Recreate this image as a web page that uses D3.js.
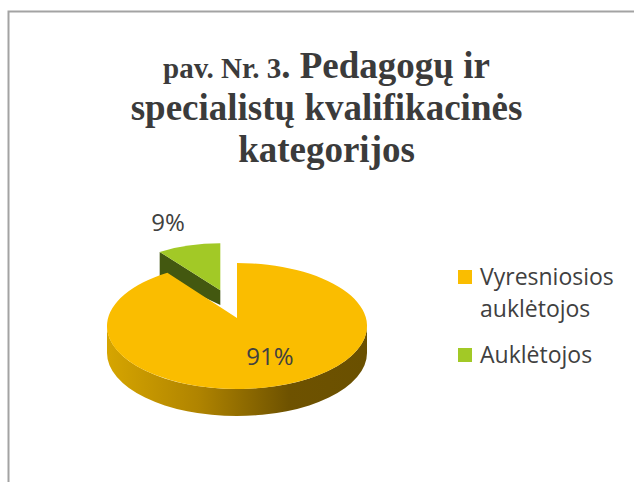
<!DOCTYPE html>
<html>
<head>
<meta charset="utf-8">
<script src="https://cdn.jsdelivr.net/npm/d3@7"></script>
<style>
  body { margin: 0; background: #fff; }
  svg { display: block; }
</style>
</head>
<body>
<svg id="chart" width="634" height="482"></svg>
<script>
// chart data
const categories = ["Vyresniosios auklėtojos", "Auklėtojos"];
const shares = [91, 9];
const labels = ["91%", "9%"];
const topColors = ["#FABD00", "#A2C926"];
const titleLines = ["specialistų kvalifikacinės", "kategorijos"];

const svg = d3.select("#chart");

// frame (only left and top edges visible)
svg.append("path")
    .attr("d", "M8.5,700 L8.5,11.5 L700,11.5")
    .attr("fill", "none")
    .attr("stroke", "#a3a3a3")
    .attr("stroke-width", 2);

// title
const titleFont = "'Liberation Serif', 'Times New Roman', serif";
const titleX = 326.5;
const title = svg.append("text")
    .attr("x", titleX)
    .attr("y", 78)
    .attr("text-anchor", "middle")
    .style("font-family", titleFont)
    .style("font-weight", "bold")
    .style("fill", "#3b3b3b");
title.append("tspan").style("font-size", "29px").text("pav. Nr. 3");
title.append("tspan").style("font-size", "37px").text(". Pedagogų ir");

titleLines.forEach((t, i) => {
    svg.append("text")
        .attr("x", titleX)
        .attr("y", 120 + i * 42)
        .attr("text-anchor", "middle")
        .style("font-family", titleFont)
        .style("font-weight", "bold")
        .style("font-size", "37px")
        .style("fill", "#3b3b3b")
        .text(t);
});

// 3D pie geometry
const cx = 237, cy = 326, rx = 130, ry = 63, depth = 27;
const apexDy = -8;     // perspective lift of the centre point
const explode = 0.46;  // explode factor for the small slice
const backScale = 0.87; // the exploded slice sits further back, so it looks smaller

const pie = d3.pie().sort(null).value(d => d)(shares);

// ellipse point for a pie angle (0 = 12 o'clock, clockwise)
const pt = (a, ox, oy, k = 1, dz = 0) => [ox + k * rx * Math.sin(a), oy - k * ry * Math.cos(a) + dz];

const defs = svg.append("defs");
const grad = defs.append("linearGradient")
    .attr("id", "sideGrad")
    .attr("x1", 0).attr("x2", 1).attr("y1", 0).attr("y2", 0);
[["0%", "#D6A500"], ["35%", "#B08400"], ["70%", "#6E5200"], ["100%", "#6A5000"]]
    .forEach(([o, c]) => grad.append("stop").attr("offset", o).attr("stop-color", c));

function topPath(a0, a1, ox, oy, k = 1) {
    const p0 = pt(a0, ox, oy, k), p1 = pt(a1, ox, oy, k);
    const large = (a1 - a0) > Math.PI ? 1 : 0;
    return `M${ox},${oy + apexDy} L${p0[0]},${p0[1]} A${k * rx},${k * ry} 0 ${large} 1 ${p1[0]},${p1[1]} Z`;
}

function sidePath(a0, a1, ox, oy) {
    // outer wall, only the front half is visible
    const s = Math.max(a0, Math.PI / 2), e = Math.min(a1, 3 * Math.PI / 2);
    if (e <= s) return null;
    const t0 = pt(s, ox, oy), t1 = pt(e, ox, oy);
    const b0 = pt(s, ox, oy, 1, depth), b1 = pt(e, ox, oy, 1, depth);
    return `M${t0[0]},${t0[1]} A${rx},${ry} 0 0 1 ${t1[0]},${t1[1]} L${b1[0]},${b1[1]} A${rx},${ry} 0 0 0 ${b0[0]},${b0[1]} Z`;
}

// small slice (exploded, drawn first: it sits behind)
const g = pie[1];
const mid = (g.startAngle + g.endAngle) / 2;
const gx = cx + explode * rx * Math.sin(mid);
const gy = cy - explode * ry * Math.cos(mid);
const c0 = pt(g.startAngle, gx, gy, backScale);
svg.append("path")
    .attr("d", `M${c0[0]},${c0[1]} L${gx},${gy + apexDy} L${gx},${gy + apexDy + depth * 0.55} L${c0[0]},${c0[1] + depth * 0.9} Z`)
    .attr("fill", "#435810");
svg.append("path")
    .attr("d", topPath(g.startAngle, g.endAngle, gx, gy, backScale))
    .attr("fill", topColors[1]);

// big slice
const y = pie[0];
const side = sidePath(y.startAngle, y.endAngle, cx, cy);
if (side) svg.append("path").attr("d", side).attr("fill", "url(#sideGrad)");
svg.append("path")
    .attr("d", topPath(y.startAngle, y.endAngle, cx, cy))
    .attr("fill", topColors[0]);

// data labels
const labelFont = "'Open Sans', 'DejaVu Sans', sans-serif";
svg.append("text")
    .attr("x", 270).attr("y", 365)
    .attr("text-anchor", "middle")
    .style("font-family", labelFont).style("font-size", "24px").style("fill", "#404040")
    .text(labels[0]);
svg.append("text")
    .attr("x", 168).attr("y", 231)
    .attr("text-anchor", "middle")
    .style("font-family", labelFont).style("font-size", "24px").style("fill", "#404040")
    .text(labels[1]);

// legend
const legendRows = [
    { lines: ["Vyresniosios", "auklėtojos"], y: 285 },
    { lines: [categories[1]], y: 363 }
];
legendRows.forEach((row, i) => {
    svg.append("rect")
        .attr("x", 458).attr("y", row.y - 15)
        .attr("width", 14).attr("height", 14)
        .attr("fill", topColors[i]);
    row.lines.forEach((t, j) => {
        svg.append("text")
            .attr("x", 480).attr("y", row.y + j * 32)
            .style("font-family", labelFont).style("font-size", "23px").style("fill", "#404040")
            .text(t);
    });
});
</script>
</body>
</html>
